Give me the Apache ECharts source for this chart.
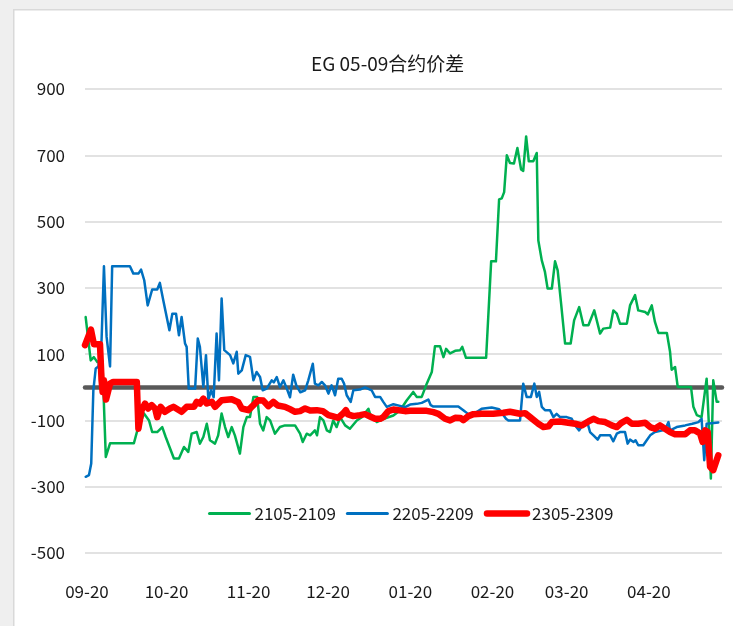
<!DOCTYPE html>
<html>
<head>
<meta charset="utf-8">
<script src="https://cdn.jsdelivr.net/npm/echarts@6/dist/echarts.min.js"></script>
<style>
  html, body { margin: 0; padding: 0; background: #efefef; }
  #chart { width: 733px; height: 626px; }
</style>
</head>
<body>
<div id="chart"></div>
<script>
  // x 轴：距 09-20 的天数
  const labelDays = [0, 30, 61, 91, 122, 153, 181, 212];
  const tickLabels = ['09-20', '10-20', '11-20', '12-20', '01-20', '02-20', '03-20', '04-20'];
  const seriesNames = ['2105-2109', '2205-2209', '2305-2309'];

  // [天数, 价差]
  const s2105 = [[-0.5,212],[1.4,81],[2.6,91],[3.9,76],[5.8,81],[7.1,-210],[8.7,-169],[17.7,-169],[19,-130],[21.5,-79],
    [23.4,-100],[24.6,-135],[26.5,-135],[28.4,-120],[29.7,-150],[32.8,-215],[34.7,-215],[36.6,-180],[38.2,-195],[39.5,-140],
    [41.4,-135],[42.6,-170],[43.9,-150],[45.2,-110],[46.4,-160],[48.3,-170],[49.5,-145],[50.8,-79],[52.1,-120],[53.3,-150],
    [54.6,-120],[55.8,-145],[57.7,-200],[59,-120],[60.3,-90],[61.5,-90],[62.8,-29],[64.2,-29],[65.3,-110],[66.5,-130],
    [67.8,-90],[69.1,-100],[70.9,-140],[72.8,-120],[74.7,-115],[77.2,-115],[78.5,-115],[80.4,-140],[81.4,-165],[82.9,-140],
    [84.2,-145],[86,-130],[86.8,-145],[87.9,-90],[89.2,-100],[90.5,-130],[91.7,-135],[92.9,-100],[94.2,-120],[95.5,-90],
    [97.4,-115],[99.2,-125],[101.8,-100],[103.7,-90],[106.2,-65],[106.8,-80],[109.3,-105],[112,-95],[115.6,-85],[118.1,-70],
    [120.6,-40],[123.1,-14],[124.4,-29],[126.3,-29],[128.2,11],[130.1,46],[131.3,124],[133.2,124],[134.5,91],[135.5,116],
    [137,102],[138.9,110],[140.8,112],[141.6,122],[143,89],[150.6,89],[152.5,380],[154.3,380],[155.5,567],[156.5,570],
    [157.4,589],[158.4,700],[159.6,677],[161.1,675],[162.4,722],[163.8,657],[164.6,653],[165.7,757],[166.7,682],[168.4,682],
    [169.7,707],[170.3,443],[171.6,383],[172.8,348],[173.8,298],[175.4,298],[176.6,380],[177.6,353],[178.9,252],[180.4,132],
    [182.5,132],[183.8,202],[184.2,197],[185.7,242],[187.3,187],[189.2,187],[191.4,232],[193.6,162],[194.8,177],[197.4,180],
    [198.6,232],[199.9,222],[201.1,192],[203.7,192],[204.9,247],[206.8,278],[208,232],[210.6,227],[211.6,220],[213.1,247],
    [214.3,197],[215.6,164],[218.8,164],[220,107],[220.6,53],[221.9,61],[222.9,1],[227.9,1],[228.8,-59],[230.1,-84],
    [231.9,-90],[233.8,26],[234.7,-120],[235.4,-275],[236.3,21],[237.6,-44],[238.2,-44]];

  const s2205 = [[-0.5,-270],[0.75,-265],[1.6,-230],[2.4,-9],[3.3,57],[4.3,63],[5.5,142],[6.4,365],[7.4,152],[8.7,63],
    [9.5,365],[16.2,365],[17.5,343],[19.4,343],[20.4,355],[21.6,323],[22.9,247],[24.6,295],[26.5,295],[27.5,315],
    [28.8,262],[29.5,265],[31.1,172],[32.2,222],[33.6,222],[34.7,157],[35.7,212],[37,132],[37.6,122],[38.4,-4],
    [40.8,-4],[41.8,147],[42.6,122],[43.9,1],[44.9,97],[45.8,-39],[46.8,-9],[47.8,-30],[48.9,162],[49.8,21],
    [50.8,268],[51.8,112],[54,97],[55.2,72],[56.5,107],[57.1,41],[58.4,51],[59.9,97],[61.5,92],[62.8,21],
    [64,46],[65.3,31],[66.3,-9],[67.8,-4],[69.7,21],[70.5,15],[71.6,31],[72.8,1],[74.1,21],[75.4,-4],
    [76.6,-30],[77.8,38],[79,5],[80.5,-15],[82.3,-9],[83.5,21],[85.2,71],[86,11],[87.3,6],[88.6,16],
    [89.8,6],[91.1,-19],[92.3,6],[93.6,-24],[94.8,26],[96.1,26],[97,11],[98,-24],[99.5,-44],[100.5,-9],
    [103,-7],[104.9,0],[107.4,-9],[108.7,-29],[110.6,-29],[111.8,-44],[113.1,-59],[115.6,-51],[118.1,-56],[120,-60],
    [121.9,-52],[124.4,-50],[126.3,-47],[128.8,-37],[129.7,-54],[130.7,-58],[140.1,-58],[142,-69],[143.9,-81],[146,-80],
    [148.9,-65],[152.7,-61],[155.5,-66],[158.1,-95],[159,-100],[163.4,-100],[164.6,11],[165.9,-29],[167.5,-29],[168.8,11],
    [169.7,-29],[170.6,-14],[171.6,-59],[172.8,-69],[174.7,-69],[176,-90],[177.2,-80],[178.5,-90],[181,-90],[182.9,-95],
    [184.2,-115],[185.7,-130],[187.3,-110],[188.6,-100],[189.8,-135],[191.1,-145],[192.7,-158],[193.6,-145],[197.4,-145],[198.6,-163],
    [199.9,-140],[201.1,-135],[203,-135],[204,-170],[204.9,-158],[206.2,-165],[207,-160],[208,-175],[209.9,-175],[211.2,-160],
    [212.5,-145],[214.3,-135],[218.1,-128],[219.4,-105],[220,-130],[222.5,-120],[225.7,-115],[228.4,-110],[230.7,-105],[231.9,-95],
    [232.9,-220],[233.8,-110],[238.2,-106]];

  const s2305 = [[-0.75,127],[1.5,174],[2.6,130],[4.9,130],[5.5,21],[5.9,-14],[6.4,21],[7.2,-37],[8.7,11],[9.9,16],
    [18.8,16],[19.4,-125],[20.6,-69],[21.9,-49],[23.1,-64],[24.4,-54],[25.7,-64],[26.5,-90],[27.8,-59],[29.4,-74],
    [31.3,-64],[32.6,-59],[35.7,-74],[37.6,-59],[40.4,-59],[41.4,-44],[42.6,-49],[43.9,-34],[45.2,-49],[47.1,-44],
    [48.3,-59],[50.8,-39],[54.6,-36],[57.1,-45],[58.4,-64],[60.9,-69],[62.8,-54],[64.6,-39],[66.5,-40],[68.4,-57],
    [70.3,-44],[72,-55],[74.7,-59],[76.6,-66],[78.5,-74],[80.4,-72],[82.3,-64],[84.2,-70],[86.7,-69],[89,-72],
    [91.1,-84],[92.9,-88],[94.8,-92],[96.5,-80],[97.7,-69],[98.5,-82],[100.5,-87],[103,-84],[104.9,-81],[106.8,-88],
    [108.7,-95],[110.6,-95],[111.8,-90],[113.7,-72],[115.6,-67],[120,-72],[121.9,-71],[128.2,-71],[130.7,-75],[132.6,-80],
    [135.1,-95],[137,-100],[138.9,-92],[141,-93],[142,-99],[143.9,-87],[145.8,-81],[148.9,-80],[153.3,-80],[157.1,-77],
    [159.6,-74],[163.4,-80],[165.3,-78],[167.2,-90],[167.8,-95],[170.3,-110],[172.2,-120],[174.1,-118],[175.4,-105],[178.5,-103],
    [181.6,-107],[184.2,-110],[186.7,-115],[189.2,-103],[191.1,-95],[193,-102],[195.5,-105],[198,-115],[199.9,-120],[201.5,-108],
    [203.7,-98],[205.6,-110],[208,-110],[210.6,-107],[212.5,-120],[214.3,-125],[216.2,-115],[218.1,-125],[220,-135],[221.9,-142],
    [225.7,-142],[227.5,-130],[229.4,-130],[231.3,-139],[232.3,-165],[233.2,-130],[234.2,-135],[235.1,-240],[236.3,-250],[237,-245],
    [238.2,-205]];

  const colors = ['#00b050', '#0070c0', '#ff0000'];
  const widths = [2.5, 2.5, 6.5];
  const FONT = "'Noto Sans CJK SC', sans-serif";

  let chart = echarts.init(document.getElementById('chart'));
  chart.setOption({
    animation: false,
    backgroundColor: 'transparent',
    textStyle: { fontFamily: FONT },
    graphic: [{
      type: 'rect', z: -10, left: 13, top: 9,
      shape: { width: 730, height: 630 },
      style: { fill: '#ffffff', stroke: '#d9d9d9', lineWidth: 1.5 }
    }],
    title: {
      text: 'EG 05-09合约价差',
      left: 306, top: 49,
      textStyle: { fontFamily: FONT, fontSize: 19, fontWeight: 'normal', color: '#1a1a1a' }
    },
    legend: {
      left: 203, top: 500,
      itemWidth: 40, itemHeight: 14, itemGap: 10,
      data: seriesNames.map((n, i) => ({
        name: n,
        lineStyle: { width: i === 2 ? 6.5 : 3, cap: 'round' }
      })),
      itemStyle: { opacity: 0 },
      textStyle: { fontFamily: FONT, fontSize: 17, color: '#1a1a1a' }
    },
    grid: { left: 85, right: 11, top: 89, bottom: 73 },
    xAxis: [{
      type: 'value', min: -0.75, max: 239.6,
      axisLine: { show: false, onZero: false },
      axisTick: { show: false },
      splitLine: { show: false },
      axisLabel: {
        customValues: labelDays,
        margin: 30,
        fontFamily: FONT, fontSize: 17, color: '#1a1a1a',
        formatter: v => tickLabels[labelDays.indexOf(v)]
      }
    }, {
      type: 'value', min: -0.75, max: 239.6, position: 'bottom',
      axisLine: { show: true, onZero: true, lineStyle: { color: '#595959', width: 4.5 } },
      axisTick: { show: false }, axisLabel: { show: false }, splitLine: { show: false }
    }],
    yAxis: {
      type: 'value', min: -500, max: 900, interval: 200,
      axisLine: { show: false }, axisTick: { show: false },
      axisLabel: { margin: 20, fontFamily: FONT, fontSize: 17, color: '#1a1a1a' },
      splitLine: { lineStyle: { color: '#d9d9d9', width: 1.5 } }
    },
    series: [s2105, s2205, s2305].map((d, i) => ({
      name: seriesNames[i],
      type: 'line',
      data: d,
      showSymbol: false,
      symbol: 'none',
      color: colors[i],
      lineStyle: { color: colors[i], width: widths[i], join: 'round', cap: 'round' }
    }))
  });
</script>
</body>
</html>
